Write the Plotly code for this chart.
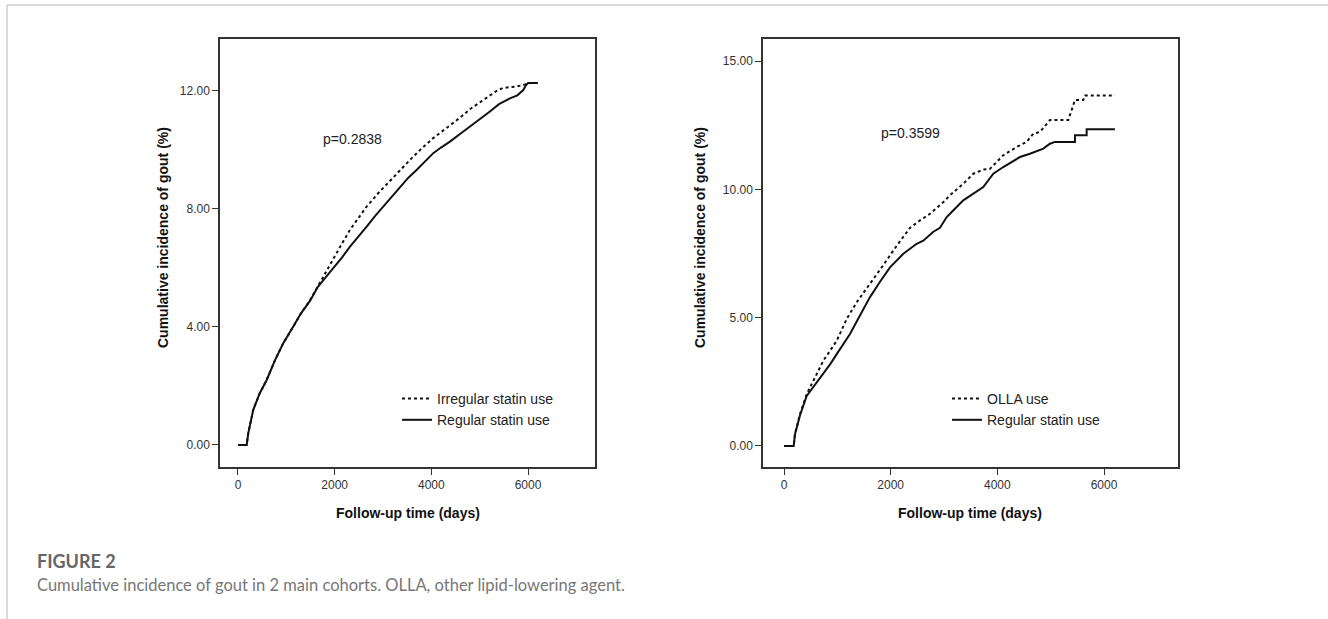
import plotly.graph_objects as go

# ---------------- data ----------------
# Left panel: Irregular vs Regular statin use
left_irr_days = [0, 180, 213, 316, 450, 594, 760, 937, 1144, 1300, 1489, 1627, 1800, 1971,
                 2150, 2317, 2490, 2662, 2900, 3143, 3350, 3557, 3800, 4040, 4200, 4385,
                 4600, 4798, 5000, 5212, 5350, 5483, 5764, 5900, 6050, 6200]
left_irr_pct = [0, 0, 0.40, 1.19, 1.75, 2.20, 2.85, 3.45, 4.01, 4.45, 4.90, 5.30, 5.85, 6.30,
                6.82, 7.29, 7.70, 8.08, 8.53, 8.93, 9.30, 9.66, 10.05, 10.40, 10.60, 10.81,
                11.10, 11.38, 11.60, 11.86, 12.00, 12.10, 12.15, 12.20, 12.27, 12.27]

left_reg_days = [0, 180, 213, 316, 450, 594, 760, 937, 1144, 1300, 1489, 1650, 1800, 1971,
                 2150, 2317, 2490, 2662, 2830, 3005, 3180, 3350, 3520, 3695, 3870, 4040,
                 4200, 4385, 4600, 4798, 5000, 5212, 5400, 5626, 5780, 5902, 5960, 6000, 6200]
left_reg_pct = [0, 0, 0.40, 1.19, 1.75, 2.20, 2.85, 3.45, 4.01, 4.45, 4.88, 5.35, 5.65, 5.98,
                6.35, 6.72, 7.05, 7.40, 7.75, 8.08, 8.42, 8.76, 9.05, 9.32, 9.60, 9.89,
                10.08, 10.28, 10.55, 10.79, 11.02, 11.30, 11.55, 11.75, 11.85, 12.03, 12.20, 12.27, 12.27]

# Right panel: OLLA vs Regular statin use
right_olla_days = [0, 181, 206, 300, 425, 613, 737, 988, 1175, 1363, 1487, 1612, 1862, 2112,
                   2362, 2549, 2737, 2986, 3112, 3361, 3549, 3736, 3861, 4111, 4362, 4549,
                   4674, 4799, 4986, 5330, 5455, 5611, 5642, 6204]
right_olla_pct = [0, 0, 0.46, 1.24, 2.02, 2.80, 3.32, 4.10, 4.95, 5.60, 5.95, 6.35, 7.05, 7.80,
                  8.50, 8.79, 9.05, 9.50, 9.77, 10.22, 10.61, 10.77, 10.80, 11.33, 11.65, 11.85,
                  12.17, 12.24, 12.70, 12.70, 13.48, 13.48, 13.66, 13.66]

right_reg_days = [0, 181, 206, 300, 425, 550, 650, 737, 870, 988, 1100, 1237, 1363, 1487, 1612,
                  1800, 1987, 2237, 2487, 2611, 2800, 2924, 3050, 3112, 3361, 3736, 3924, 4111,
                  4424, 4611, 4861, 4986, 5080, 5455, 5455, 5674, 5674, 6204]
right_reg_pct = [0, 0, 0.46, 1.20, 1.95, 2.30, 2.60, 2.85, 3.20, 3.58, 3.95, 4.36, 4.85, 5.30, 5.80,
                 6.40, 6.96, 7.49, 7.88, 8.00, 8.35, 8.50, 8.92, 9.05, 9.57, 10.09, 10.61, 10.87,
                 11.26, 11.39, 11.59, 11.78, 11.85, 11.85, 12.11, 12.11, 12.34, 12.34]

x_ticks = [0, 2000, 4000, 6000]
left_y_ticks = [0, 4, 8, 12]
right_y_ticks = [0, 5, 10, 15]

left_names = ["Irregular statin use", "Regular statin use"]
right_names = ["OLLA use", "Regular statin use"]
p_texts = ["p=0.2838", "p=0.3599"]
x_title = "Follow-up time (days)"
y_title = "Cumulative incidence of gout (%)"
fig_label = "FIGURE 2"
caption = "Cumulative incidence of gout in 2 main cohorts. OLLA, other lipid-lowering agent."

# ---------------- figure ----------------
W, H = 1328, 619
def px_x(p): return p / W
def px_y(p): return 1 - p / H

fig = go.Figure()
fig.add_trace(go.Scatter(x=left_irr_days, y=left_irr_pct, mode="lines", name=left_names[0],
                         line=dict(color="#111", width=2, dash="dot"), xaxis="x", yaxis="y",
                         legend="legend"))
fig.add_trace(go.Scatter(x=left_reg_days, y=left_reg_pct, mode="lines", name=left_names[1],
                         line=dict(color="#111", width=2), xaxis="x", yaxis="y", legend="legend"))
fig.add_trace(go.Scatter(x=right_olla_days, y=right_olla_pct, mode="lines", name=right_names[0],
                         line=dict(color="#111", width=2, dash="dot"),
                         xaxis="x2", yaxis="y2", legend="legend2"))
fig.add_trace(go.Scatter(x=right_reg_days, y=right_reg_pct, mode="lines", name=right_names[1],
                         line=dict(color="#111", width=2),
                         xaxis="x2", yaxis="y2", legend="legend2"))

tickfont = dict(family="Liberation Sans, Arial", size=12, color="#333")
axis_common = dict(showline=True, linecolor="#333", linewidth=1.5, mirror=True,
                   ticks="outside", ticklen=6, tickwidth=1.2, tickcolor="#333",
                   showgrid=False, zeroline=False, tickfont=tickfont)

ydom = [px_y(467), px_y(39)]
legend_font = dict(family="Liberation Sans, Arial", size=14, color="#222")
fig.update_layout(
    width=W, height=H, margin=dict(l=0, r=0, t=0, b=0),
    paper_bgcolor="white", plot_bgcolor="white",
    xaxis=dict(domain=[px_x(220), px_x(595)], range=[-372, 7386], tickvals=x_ticks,
               anchor="y", **axis_common),
    yaxis=dict(domain=ydom, range=[-0.75, 13.76], tickvals=left_y_ticks, tickformat=".2f",
               anchor="x", **axis_common),
    xaxis2=dict(domain=[px_x(763), px_x(1178)], range=[-394, 7387], tickvals=x_ticks,
                anchor="y2", **axis_common),
    yaxis2=dict(domain=ydom, range=[-0.82, 15.86], tickvals=right_y_ticks, tickformat=".2f",
                anchor="x2", **axis_common),
    legend=dict(x=px_x(397), y=px_y(383), xanchor="left", yanchor="top",
                bgcolor="rgba(0,0,0,0)", font=legend_font, itemwidth=30, tracegroupgap=0),
    legend2=dict(x=px_x(947), y=px_y(383), xanchor="left", yanchor="top",
                 bgcolor="rgba(0,0,0,0)", font=legend_font, itemwidth=30, tracegroupgap=0),
    showlegend=True,
)

title_font = dict(family="Liberation Sans, Arial", size=14, color="#111")
ctr = dict(xanchor="center", yanchor="middle", showarrow=False)
ann = []
ann.append(dict(text=f"<b>{y_title}</b>", x=px_x(163), y=px_y(238), xref="paper", yref="paper",
                textangle=-90, font=title_font, **ctr))
ann.append(dict(text=f"<b>{y_title}</b>", x=px_x(700), y=px_y(238), xref="paper", yref="paper",
                textangle=-90, font=title_font, **ctr))
ann.append(dict(text=f"<b>{x_title}</b>", x=px_x(408), y=px_y(513), xref="paper", yref="paper",
                font=title_font, **ctr))
ann.append(dict(text=f"<b>{x_title}</b>", x=px_x(970), y=px_y(513), xref="paper", yref="paper",
                font=title_font, **ctr))
ann.append(dict(text=p_texts[0], x=2378, y=10.37, xref="x", yref="y",
                font=dict(family="Liberation Sans, Arial", size=14, color="#222"), **ctr))
ann.append(dict(text=p_texts[1], x=2380, y=12.19, xref="x2", yref="y2",
                font=dict(family="Liberation Sans, Arial", size=14, color="#222"), **ctr))
ann.append(dict(text=f"<b>{fig_label}</b>", x=px_x(35), y=px_y(561), xref="paper", yref="paper",
                xanchor="left", yanchor="middle", showarrow=False,
                font=dict(family="Lato", size=18, color="#666")))
ann.append(dict(text=caption, x=px_x(35), y=px_y(585), xref="paper", yref="paper",
                xanchor="left", yanchor="middle", showarrow=False,
                font=dict(family="Lato", size=16.5, color="#777")))
fig.update_layout(annotations=ann)

fig.update_layout(shapes=[
    dict(type="line", xref="paper", yref="paper", x0=px_x(7), x1=1, y0=px_y(5), y1=px_y(5),
         line=dict(color="#cfcfcf", width=1.5)),
    dict(type="line", xref="paper", yref="paper", x0=px_x(7), x1=px_x(7), y0=px_y(5), y1=0,
         line=dict(color="#cfcfcf", width=1.5)),
])

fig.write_html("out.html", config={"displayModeBar": False},
               post_script="document.body.style.margin='0px';")
